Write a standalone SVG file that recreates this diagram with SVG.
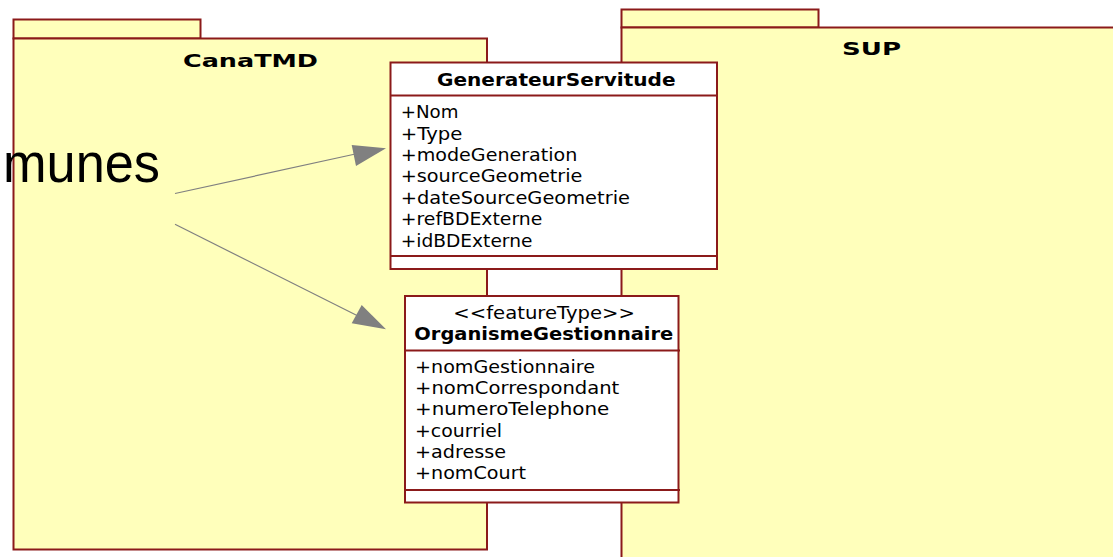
<svg xmlns="http://www.w3.org/2000/svg" width="1113" height="557" viewBox="0 0 1113 557">
<style>
.pkg{fill:#FFFFBB;stroke:#8B1A1A;stroke-width:2}
.cls{fill:#FFFFFF;stroke:#8B1A1A;stroke-width:2}
.div{stroke:#8B1A1A;stroke-width:2}
.ptitle{font-family:"DejaVu Sans",Verdana,sans-serif;font-weight:bold;font-size:18px;fill:#000}
.ctitle{font-family:"DejaVu Sans",Verdana,sans-serif;font-weight:bold;font-size:17px;fill:#000}
.attr{font-family:"DejaVu Sans",Verdana,sans-serif;font-size:17px;fill:#000}
.conn{stroke:#808080;stroke-width:1.2;fill:none}
.head{fill:#808080;stroke:none}
.big{font-family:"Liberation Sans",Arial,sans-serif;font-size:56px;fill:#000}
</style>
<rect width="1113" height="557" fill="#FFFFFF"/>
<g id="pkg-CanaTMD">
<rect class="pkg" x="13.5" y="19.5" width="187" height="19"/>
<rect class="pkg" x="13.5" y="38.5" width="473.5" height="511"/>
<text class="ptitle" x="183" y="66.5" textLength="135" lengthAdjust="spacingAndGlyphs">CanaTMD</text>
</g>
<g id="pkg-SUP">
<rect class="pkg" x="621.5" y="9.5" width="197" height="18"/>
<rect class="pkg" x="621.5" y="27.5" width="600" height="600"/>
<text class="ptitle" x="842" y="55" textLength="59" lengthAdjust="spacingAndGlyphs">SUP</text>
</g>
<g id="label-munes">
<text class="big" x="3" y="182" textLength="157" lengthAdjust="spacingAndGlyphs">munes</text>
</g>
<g id="connectors">
<line class="conn" x1="175" y1="193.5" x2="360" y2="153"/>
<polygon class="head" points="386,148.3 351.7,145 356,166"/>
<line class="conn" x1="175" y1="224.3" x2="362" y2="318"/>
<polygon class="head" points="386,329.3 351.7,323.3 361.7,305"/>
</g>
<g id="class-GenerateurServitude">
<rect class="cls" x="390.5" y="62.5" width="326.5" height="206.5"/>
<line class="div" x1="390.5" y1="95.5" x2="718" y2="95.5"/>
<line class="div" x1="390.5" y1="256" x2="718" y2="256"/>
<text class="ctitle" x="437" y="85.5" textLength="238.5" lengthAdjust="spacingAndGlyphs">GenerateurServitude</text>
<text class="attr" x="400.7" y="118.3" textLength="57.7" lengthAdjust="spacingAndGlyphs">+Nom</text>
<text class="attr" x="400.7" y="139.7" textLength="61.7" lengthAdjust="spacingAndGlyphs">+Type</text>
<text class="attr" x="400.7" y="161" textLength="176.7" lengthAdjust="spacingAndGlyphs">+modeGeneration</text>
<text class="attr" x="400.7" y="182.4" textLength="181.7" lengthAdjust="spacingAndGlyphs">+sourceGeometrie</text>
<text class="attr" x="400.7" y="203.8" textLength="229.3" lengthAdjust="spacingAndGlyphs">+dateSourceGeometrie</text>
<text class="attr" x="400.7" y="225.2" textLength="141.7" lengthAdjust="spacingAndGlyphs">+refBDExterne</text>
<text class="attr" x="400.7" y="246.6" textLength="131.7" lengthAdjust="spacingAndGlyphs">+idBDExterne</text>
</g>
<g id="class-OrganismeGestionnaire">
<rect class="cls" x="405" y="296" width="273.5" height="206.5"/>
<line class="div" x1="405" y1="350.5" x2="680" y2="350.5"/>
<line class="div" x1="405" y1="490" x2="680" y2="490"/>
<text class="attr" x="453.3" y="319.3" textLength="181.7" lengthAdjust="spacingAndGlyphs">&lt;&lt;featureType&gt;&gt;</text>
<text class="ctitle" x="414.3" y="340" textLength="259" lengthAdjust="spacingAndGlyphs">OrganismeGestionnaire</text>
<text class="attr" x="415" y="372.7" textLength="180" lengthAdjust="spacingAndGlyphs">+nomGestionnaire</text>
<text class="attr" x="415" y="394" textLength="204.3" lengthAdjust="spacingAndGlyphs">+nomCorrespondant</text>
<text class="attr" x="415" y="415.3" textLength="194.3" lengthAdjust="spacingAndGlyphs">+numeroTelephone</text>
<text class="attr" x="415" y="436.6" textLength="87" lengthAdjust="spacingAndGlyphs">+courriel</text>
<text class="attr" x="415" y="457.9" textLength="91" lengthAdjust="spacingAndGlyphs">+adresse</text>
<text class="attr" x="415" y="479.2" textLength="111" lengthAdjust="spacingAndGlyphs">+nomCourt</text>
</g>
</svg>
